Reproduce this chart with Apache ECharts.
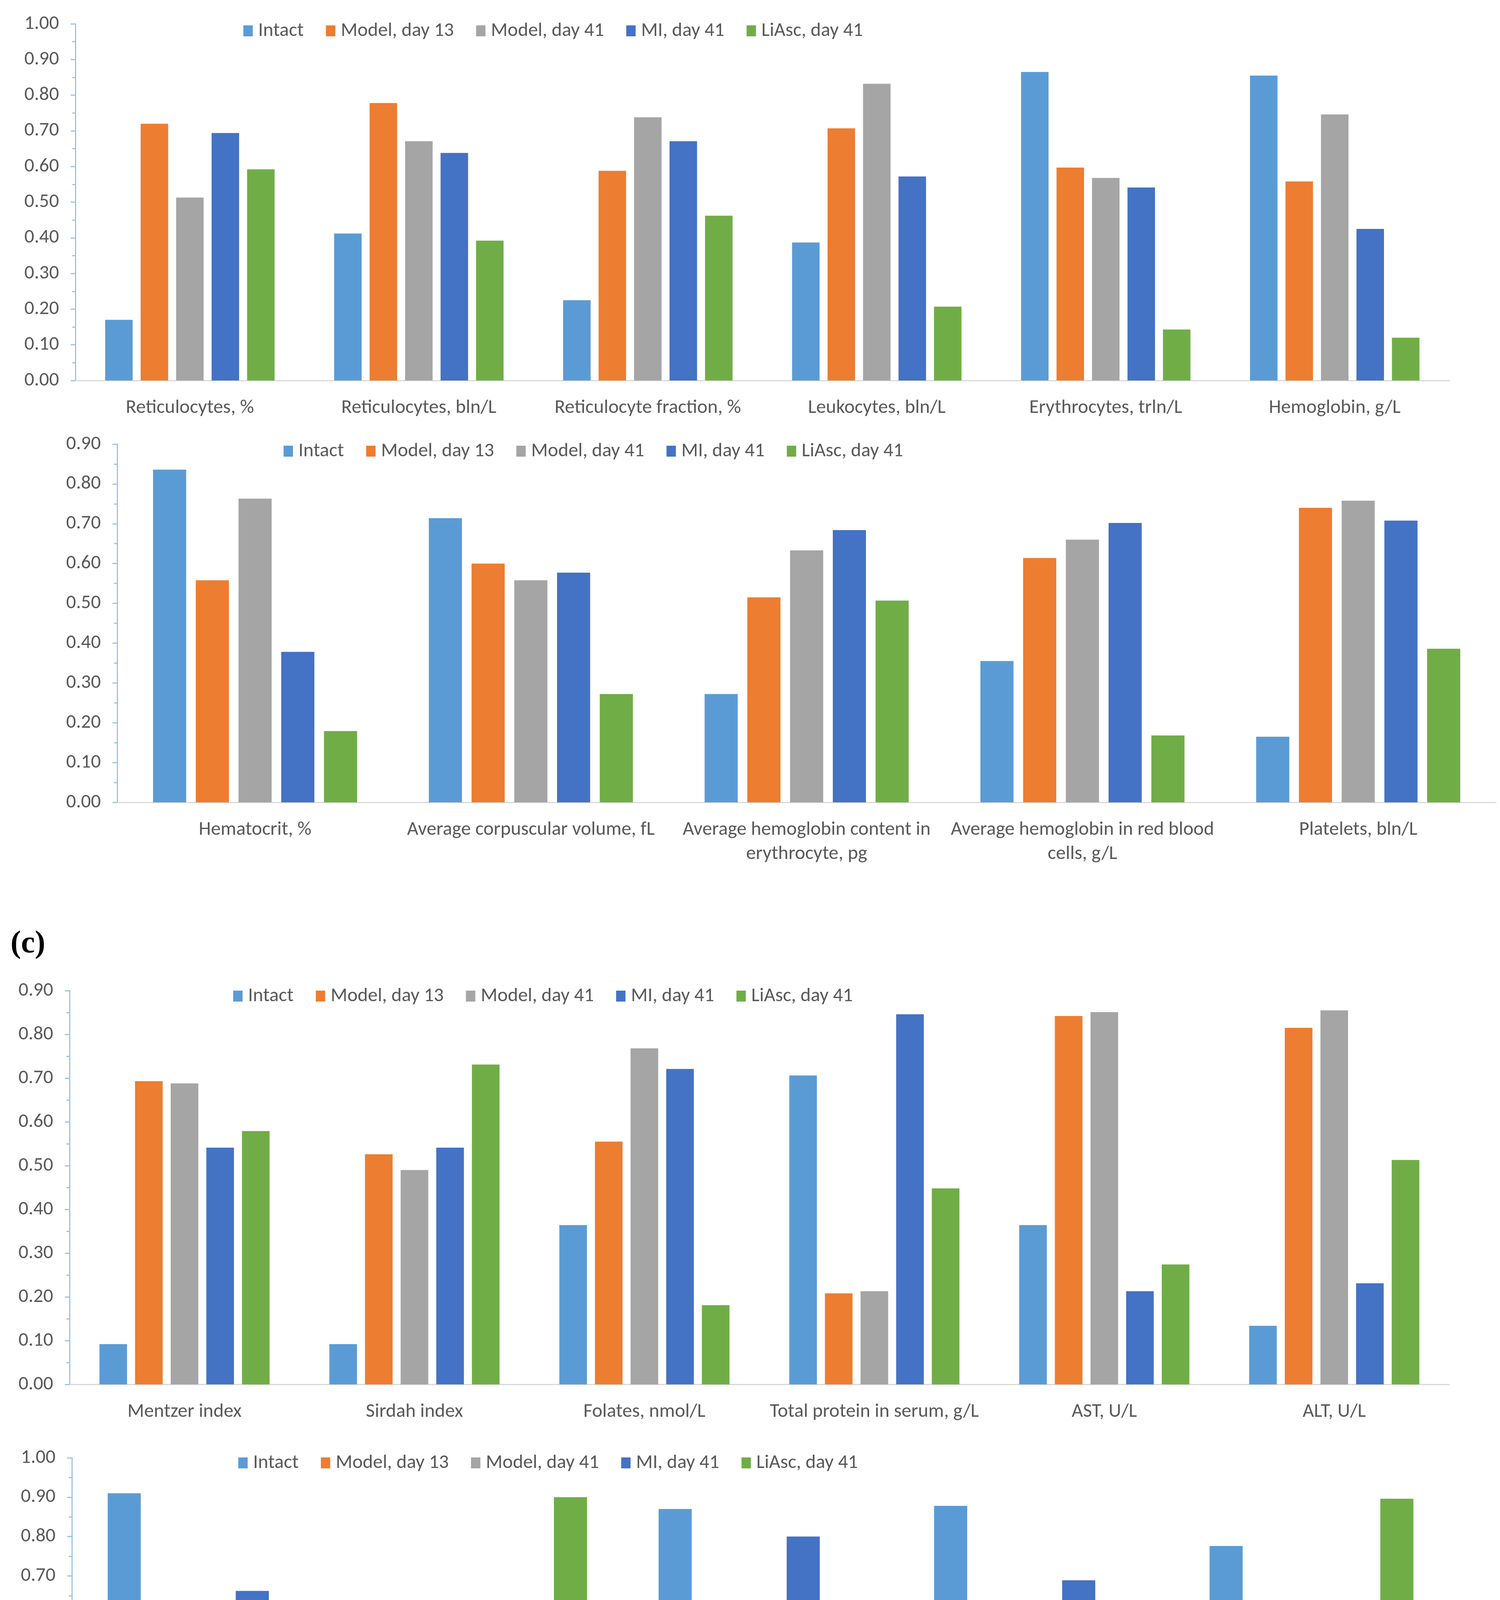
<!DOCTYPE html>
<html>
<head>
<meta charset="utf-8">
<script src="https://cdn.jsdelivr.net/npm/echarts@6/dist/echarts.min.js"></script>
<style>
html,body{margin:0;padding:0;background:#fff;}
#chart{width:3840px;height:4905px;}
</style>
</head>
<body>
<div id="chart"></div>
<script>
// ---- data ----
const seriesNames = ['Intact', 'Model, day 13', 'Model, day 41', 'MI, day 41', 'LiAsc, day 41'];

const catA = ['Reticulocytes, %', 'Reticulocytes, bln/L', 'Reticulocyte fraction, %', 'Leukocytes, bln/L', 'Erythrocytes, trln/L', 'Hemoglobin, g/L'];
const intactA  = [0.170, 0.412, 0.225, 0.387, 0.865, 0.855];
const model13A = [0.720, 0.778, 0.588, 0.707, 0.597, 0.558];
const model41A = [0.513, 0.671, 0.738, 0.832, 0.568, 0.746];
const miA      = [0.694, 0.638, 0.671, 0.572, 0.541, 0.425];
const liascA   = [0.592, 0.392, 0.462, 0.207, 0.143, 0.120];

const catB = ['Hematocrit, %', 'Average corpuscular volume, fL', 'Average hemoglobin content in\nerythrocyte, pg', 'Average hemoglobin in red blood\ncells, g/L', 'Platelets, bln/L'];
const intactB  = [0.836, 0.714, 0.272, 0.355, 0.165];
const model13B = [0.558, 0.600, 0.515, 0.614, 0.740];
const model41B = [0.763, 0.558, 0.633, 0.660, 0.758];
const miB      = [0.378, 0.577, 0.684, 0.702, 0.708];
const liascB   = [0.179, 0.272, 0.507, 0.168, 0.386];

const catC = ['Mentzer index', 'Sirdah index', 'Folates, nmol/L', 'Total protein in serum, g/L', 'AST, U/L', 'ALT, U/L'];
const intactC  = [0.092, 0.092, 0.364, 0.706, 0.364, 0.134];
const model13C = [0.693, 0.526, 0.555, 0.208, 0.842, 0.815];
const model41C = [0.688, 0.490, 0.768, 0.213, 0.851, 0.855];
const miC      = [0.541, 0.541, 0.721, 0.846, 0.213, 0.231];
const liascC   = [0.579, 0.731, 0.181, 0.448, 0.274, 0.513];

const catD = ['Serum creatinine, µmol/L', 'Glomerular filtration rate,\nml/min/1.73m^2', 'Total bilirubin, µmol/L', 'Direct bilirubin, µmol/L', 'Vitamin B12 (cyanocobalamin),\npg/ml'];
const intactD  = [0.910, 0.560, 0.870, 0.878, 0.776];
const model13D = [0.319, 0.161, 0.272, 0.564, 0.359];
const model41D = [0.375, 0.272, 0.375, 0.587, 0.298];
const miD      = [0.662, 0.606, 0.800, 0.689, 0.329];
const liascD   = [0.097, 0.900, 0.352, 0.142, 0.896];

const yMaxA = 1.0, yMaxB = 0.9, yMaxC = 0.9, yMaxD = 1.0;
const panelLabel = '(c)';

// ---- styling / layout ----
const colors = ['#5B9BD5', '#ED7D31', '#A5A5A5', '#4472C4', '#70AD47'];
const FONT = "Carlito, 'Liberation Sans Narrow', 'Liberation Sans', sans-serif";
const TXT = '#595959';

const panels = [
  {cats: catA, data: [intactA, model13A, model41A, miA, liascA], max: yMaxA,
   grid: {left: 193, right: 130, top: 61, height: 913}, legend: {left: 618, top: 49}},
  {cats: catB, data: [intactB, model13B, model41B, miB, liascB], max: yMaxB,
   grid: {left: 300, right: 10, top: 1137, height: 917}, legend: {left: 721, top: 1125}},
  {cats: catC, data: [intactC, model13C, model41C, miC, liascC], max: yMaxC,
   grid: {left: 178, right: 130, top: 2536, height: 1008}, legend: {left: 592, top: 2520}},
  {cats: catD, data: [intactD, model13D, model41D, miD, liascD], max: yMaxD,
   grid: {left: 184, right: 130, top: 3732, height: 1008}, legend: {left: 605, top: 3715}}
];

const grids = [], xAxes = [], yAxes = [], series = [], legends = [];
panels.forEach((p, i) => {
  grids.push(Object.assign({containLabel: false}, p.grid));
  xAxes.push({
    type: 'category', gridIndex: i, data: p.cats,
    axisLine: {lineStyle: {color: '#D9D9D9', width: 3}},
    axisTick: {show: false},
    axisLabel: {color: TXT, fontFamily: FONT, fontSize: 50, margin: 39, lineHeight: 62, interval: 0}
  });
  yAxes.push({
    type: 'value', gridIndex: i, min: 0, max: p.max, interval: 0.1,
    axisLine: {show: true, lineStyle: {color: '#9DC3E6', width: 3}},
    axisTick: {show: true, inside: false, length: 12, lineStyle: {color: '#9DC3E6', width: 3}},
    minorTick: {show: true, splitNumber: 2, length: 8, lineStyle: {color: '#9DC3E6', width: 3}},
    splitLine: {show: false},
    axisLabel: {color: TXT, fontFamily: FONT, fontSize: 50, margin: 42, formatter: v => v.toFixed(2)}
  });
  seriesNames.forEach((name, k) => {
    series.push({
      name: name, type: 'bar', xAxisIndex: i, yAxisIndex: i,
      data: p.data[k], barGap: '29%', barCategoryGap: '26%',
      itemStyle: {color: colors[k]}
    });
  });
  legends.push({
    data: seriesNames, left: p.legend.left, top: p.legend.top, orient: 'horizontal',
    itemWidth: 24, itemHeight: 28, itemGap: 57, icon: 'rect',
    textStyle: {color: TXT, fontFamily: FONT, fontSize: 50, padding: [0, 0, 0, 9]}
  });
});

const chart = echarts.init(document.getElementById('chart'), null, {renderer: 'canvas', width: 3840, height: 4905});
chart.setOption({
  backgroundColor: '#ffffff',
  animation: false,
  color: colors,
  grid: grids, xAxis: xAxes, yAxis: yAxes, series: series, legend: legends,
  graphic: [{
    type: 'text', left: 27, top: 2377,
    style: {text: panelLabel, font: "bold 80px 'Liberation Serif', 'DejaVu Serif', serif", fill: '#000'}
  }]
});
</script>
</body>
</html>
